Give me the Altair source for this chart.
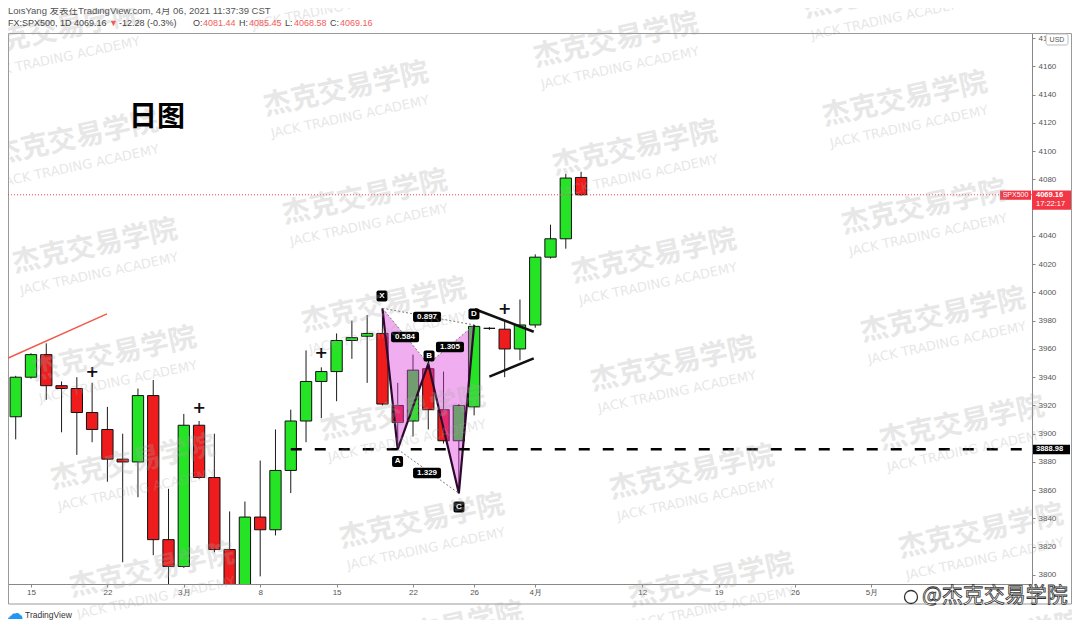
import altair as alt
import pandas as pd

# ---------------- data ----------------
# daily bars, index 0 = 15 Feb 2021 (FX:SPX500, 1D)
bar_idx = list(range(-2, 37))
opens  = [3915, 3912, 3940, 3956, 3934, 3932, 3915, 3903, 3882, 3880, 3927, 3825, 3806,
          3906, 3869, 3818, 3768, 3841, 3832, 3874, 3909, 3937, 3944, 3966, 3969, 3971,
          3920, 3909, 3946, 3917, 3895, 3919, 3974.6, 3974, 3960, 3977, 4025, 4038, 4081.44]
highs  = [3917, 3941, 3957, 3964, 3937, 3940, 3936, 3919, 3900, 3932, 3938, 3861, 3914,
          3909, 3900, 3845, 3852, 3881, 3903, 3917, 3959, 3947, 3971, 3980, 3984, 3988.8,
          3936, 3956, 3950, 3944, 3921, 3977, 3975.5, 3980, 3995, 4027, 4048, 4084, 4085.45]
lows   = [3905, 3896, 3939, 3924, 3901, 3885, 3894, 3866, 3809, 3855, 3814, 3790, 3805,
          3868, 3816, 3723, 3722, 3799, 3828, 3858, 3894, 3911, 3923, 3953, 3936, 3920,
          3888.98, 3898, 3903, 3893, 3857.8, 3913, 3973.5, 3940, 3952, 3975, 4024, 4031, 4068.58]
closes = [3912, 3940, 3956, 3934, 3932, 3915, 3903, 3882, 3880, 3927, 3825, 3806, 3906,
          3869, 3818, 3768, 3841, 3832, 3874, 3909, 3937, 3944, 3966, 3968, 3971, 3921,
          3908, 3945, 3917, 3895, 3920, 3976, 3974.6, 3960, 3977, 4025, 4038, 4081, 4069.16]

tick_idx = [0, 5, 10, 15, 20, 25, 29, 33, 40, 45, 50, 55]
tick_lab = ["15", "22", "3月", "8", "15", "22", "26", "4月", "12", "19", "26", "5月"]
# 4060 sits under the last-price tag in the picture
price_ticks = [v for v in range(3800, 4181, 20) if v != 4060]

last_price = 4069.16
support = 3888.98
support_start = 17

pat_lab = ["X", "A", "B", "C", "D"]
pat_i = [23, 24, 26, 28, 29]
pat_p = [3988.8, 3888.98, 3949.4, 3857.8, 3977.0]

ratio_txt = ["0.897", "0.584", "1.305", "1.329"]
ratio_i = [25.92, 24.48, 27.42, 25.92]
ratio_p = [3982.7, 3968.5, 3961.4, 3872.2]
ratio_seg = [("X", "D"), ("X", "B"), ("B", "D"), ("A", "C")]

ptlab_i = [22.97, 23.99, 26.05, 28.01, 28.99]
ptlab_p = [3997.5, 3880.4, 3955.0, 3848.1, 3984.8]

plus_i = [4, 11, 19, 31]
plus_p = [3944, 3918, 3957, 3988]

red_trend = dict(x1=[-1.77], y1=[3952.2], x2=[4.97], y2=[3984.8])
tri_x1 = [29.06, 30.0]
tri_p1 = [3988.1, 3940.4]
tri_x2 = [32.9, 32.9]
tri_p2 = [3972.2, 3953.4]

hdr1 = "LoisYang 发表在TradingView.com, 4月 06, 2021 11:37:39 CST"
hdr2_dark = ["FX:SPX500, 1D 4069.16", "-12.28 (-0.3%)", "O:", "H:", "L:", "C:"]
hdr2_dark_x = [0, 111, 185, 231, 277, 322]
hdr2_red = ["▼", "4081.44", "4085.45", "4068.58", "4069.16"]
hdr2_red_x = [101, 195, 241, 286, 332]

# ---------------- geometry / styles ----------------
W, H = 1024, 551
X_DOM = [-1.505, 65.51]
Y_DOM = [3793.6, 4183.7]
PPT = H / (Y_DOM[1] - Y_DOM[0])
PPI = W / (X_DOM[1] - X_DOM[0])
xs = alt.Scale(domain=X_DOM, nice=False, zero=False)
ys = alt.Scale(domain=Y_DOM, nice=False, zero=False)
GREEN = "#25e325"
RED = "#ee1c1c"
FONT = "Liberation Sans, DejaVu Sans"
CJK = "Noto Sans CJK SC"

label_expr = "[" + ",".join(f"'{t}'" for t in tick_lab) + "][indexof([" + \
    ",".join(str(t) for t in tick_idx) + "], datum.value)]"

xaxis = alt.Axis(values=tick_idx, labelExpr=label_expr, grid=False, title=None,
                 domainColor="#888", tickColor="#888", tickSize=3, labelFontSize=8,
                 labelColor="#555", labelFont=FONT, labelPadding=1, labelOverlap=False,
                 labelFlush=False, orient="bottom")
yaxis = alt.Axis(orient="right", values=price_ticks, format="d", grid=False, title=None,
                 domainColor="#888", tickColor="#888", tickSize=3, labelFontSize=8,
                 labelColor="#555", labelFont=FONT, labelPadding=3, labelAlign="left",
                 labelOverlap=False, labelFlush=False)


def to_i(px):
    return X_DOM[0] + px / PPI


def to_p(py):
    return Y_DOM[1] - py / PPT


def XQ(f):
    return alt.X(f, scale=xs, axis=xaxis)


def YQ(f):
    return alt.Y(f, scale=ys, axis=yaxis)


one = alt.Data(values=[{"a": 1}])

candles = pd.DataFrame(dict(i=bar_idx, o=opens, h=highs, l=lows, c=closes))
candles["dir"] = ["up" if c >= o else "down" for o, c in zip(opens, closes)]

wicks = alt.Chart(candles).mark_rule(color="#1a1a1a", strokeWidth=1, clip=True).encode(
    x=XQ("i:Q"), y=YQ("l:Q"), y2="h:Q")

bodies = alt.Chart(candles).transform_calculate(
    x1="datum.i - 0.37", x2="datum.i + 0.37"
).mark_rect(stroke="#111", strokeWidth=1, clip=True).encode(
    x=XQ("x1:Q"), x2="x2:Q", y=YQ("o:Q"), y2="c:Q",
    color=alt.Color("dir:N", scale=alt.Scale(domain=["up", "down"], range=[GREEN, RED]),
                    legend=None))

frame = alt.Chart(one).mark_rect(fillOpacity=0, stroke="#9a9a9a", strokeWidth=1).encode(
    x=alt.value(0.5), x2=alt.value(1063.5), y=alt.value(0.5), y2=alt.value(571))
sep = alt.Chart(one).mark_rule(color="#888").encode(
    x=alt.value(1024), y=alt.value(551), y2=alt.value(571))

# harmonic pattern
P = {k: (i, p) for k, i, p in zip(pat_lab, pat_i, pat_p)}


def interp(a, b, x):
    (x1, y1), (x2, y2) = P[a], P[b]
    return y1 + (y2 - y1) * (x - x1) / (x2 - x1)


area_rows = [
    dict(tri="XAB", i=P["X"][0], lo=P["X"][1], hi=P["X"][1]),
    dict(tri="XAB", i=P["A"][0], lo=P["A"][1], hi=interp("X", "B", P["A"][0])),
    dict(tri="XAB", i=P["B"][0], lo=P["B"][1], hi=P["B"][1]),
    dict(tri="BCD", i=P["B"][0], lo=P["B"][1], hi=P["B"][1]),
    dict(tri="BCD", i=P["C"][0], lo=P["C"][1], hi=interp("B", "D", P["C"][0])),
    dict(tri="BCD", i=P["D"][0], lo=P["D"][1], hi=P["D"][1]),
]
pat_area = alt.Chart(pd.DataFrame(area_rows)).mark_area(color="#dc3cdc", opacity=0.42).encode(
    x=XQ("i:Q"), y=YQ("lo:Q"), y2="hi:Q", detail="tri:N")

pat_df = pd.DataFrame(dict(k=list(range(5)), i=pat_i, p=pat_p))
pat_line = alt.Chart(pat_df).mark_line(color="#2d0a2d", strokeWidth=2.2).encode(
    x=XQ("i:Q"), y=YQ("p:Q"), order="k:Q")

seg_df = pd.DataFrame([dict(x1=P[a][0], y1=P[a][1], x2=P[b][0], y2=P[b][1]) for a, b in ratio_seg])
dotted = alt.Chart(seg_df).mark_rule(color="#7a7a7a", strokeWidth=1, strokeDash=[2, 2]).encode(
    x=XQ("x1:Q"), y=YQ("y1:Q"), x2="x2:Q", y2="y2:Q")

ratio_df = pd.DataFrame(dict(t=ratio_txt, i=ratio_i, p=ratio_p))
ratio_box = alt.Chart(ratio_df).transform_calculate(
    a=f"datum.i - {14 / PPI}", b=f"datum.i + {14 / PPI}",
    lo=f"datum.p - {5.2 / PPT}", hi=f"datum.p + {5.2 / PPT}"
).mark_rect(color="#000", cornerRadius=2).encode(x=XQ("a:Q"), x2="b:Q", y=YQ("lo:Q"), y2="hi:Q")
ratio_text = alt.Chart(ratio_df).mark_text(color="white", fontSize=8, font=FONT,
                                           fontWeight="bold").encode(
    x=XQ("i:Q"), y=YQ("p:Q"), text="t:N")

pt_df = pd.DataFrame(dict(t=pat_lab, i=ptlab_i, p=ptlab_p))
pt_box = alt.Chart(pt_df).transform_calculate(
    a=f"datum.i - {5.5 / PPI}", b=f"datum.i + {5.5 / PPI}",
    lo=f"datum.p - {5.5 / PPT}", hi=f"datum.p + {5.5 / PPT}"
).mark_rect(color="#000", cornerRadius=2).encode(x=XQ("a:Q"), x2="b:Q", y=YQ("lo:Q"), y2="hi:Q")
pt_text = alt.Chart(pt_df).mark_text(color="white", fontSize=8, font=FONT,
                                     fontWeight="bold").encode(
    x=XQ("i:Q"), y=YQ("p:Q"), text="t:N")

support_rule = alt.Chart(pd.DataFrame(dict(a=[support_start], b=[X_DOM[1]], p=[support]))).mark_rule(
    color="#000", strokeWidth=2.5, strokeDash=[11, 13]).encode(x=XQ("a:Q"), x2="b:Q", y=YQ("p:Q"))
last_rule = alt.Chart(pd.DataFrame(dict(a=[X_DOM[0]], b=[X_DOM[1]], p=[last_price]))).mark_rule(
    color="#f04848", strokeWidth=1, strokeDash=[1, 2]).encode(x=XQ("a:Q"), x2="b:Q", y=YQ("p:Q"))

red_line = alt.Chart(pd.DataFrame(red_trend)).mark_rule(color="#f05a4a", strokeWidth=1.5, clip=True).encode(
    x=XQ("x1:Q"), y=YQ("y1:Q"), x2="x2:Q", y2="y2:Q")
tri_lines = alt.Chart(pd.DataFrame(dict(x1=tri_x1, y1=tri_p1, x2=tri_x2, y2=tri_p2))).mark_rule(
    color="#111", strokeWidth=2.5).encode(x=XQ("x1:Q"), y=YQ("y1:Q"), x2="x2:Q", y2="y2:Q")

plus = alt.Chart(pd.DataFrame(dict(i=plus_i, p=plus_p))).mark_text(
    text="+", fontSize=16, font="DejaVu Sans", fontWeight="bold", color="#111").encode(
    x=XQ("i:Q"), y=YQ("p:Q"))

# price-axis tags
lp = pd.DataFrame(dict(p=[last_price], hi=[last_price + 4.2 / PPT], lo=[last_price - 15 / PPT],
                       lo2=[last_price - 5 / PPT], t=[f"{last_price:.2f}"]))
spx_box = alt.Chart(lp).mark_rect(color="#f23645").encode(
    x=alt.value(992), x2=alt.value(1023), y=YQ("hi:Q"), y2="lo2:Q")
spx_txt = alt.Chart(lp).mark_text(text="SPX500", color="white", fontSize=7, font=FONT,
                                  dy=0.5).encode(x=alt.value(1007.5), y=YQ("p:Q"))
price_box = alt.Chart(lp).mark_rect(color="#f23645").encode(
    x=alt.value(1024), x2=alt.value(1063), y=YQ("hi:Q"), y2="lo:Q")
price_txt = alt.Chart(lp).mark_text(color="white", fontSize=7.5, font=FONT, fontWeight="bold",
                                    align="left").encode(x=alt.value(1028), y=YQ("p:Q"), text="t:N")
time_txt = alt.Chart(lp).mark_text(text="17:22:17", color="white", fontSize=7.5, font=FONT,
                                   align="left", dy=9.5).encode(x=alt.value(1028), y=YQ("p:Q"))
sp = pd.DataFrame(dict(p=[support], hi=[support + 4.5 / PPT], lo=[support - 5 / PPT], t=[f"{support:.2f}"]))
sup_box = alt.Chart(sp).mark_rect(color="#000").encode(
    x=alt.value(1025), x2=alt.value(1062), y=YQ("hi:Q"), y2="lo:Q")
sup_txt = alt.Chart(sp).mark_text(color="white", fontSize=7.5, font=FONT, fontWeight="bold",
                                  align="left").encode(x=alt.value(1028), y=YQ("p:Q"), text="t:N")
usd_box = alt.Chart(one).mark_rect(fill="white", stroke="#bbb", strokeWidth=1, cornerRadius=2).encode(
    x=alt.value(1038), x2=alt.value(1060), y=alt.value(1), y2=alt.value(12))
usd_txt = alt.Chart(one).mark_text(text="USD", fontSize=7, font=FONT, color="#555").encode(
    x=alt.value(1049), y=alt.value(6.5))

# watermarks (lattice of repeated logo text)
wm_rows = []
for a in range(-1, 3):
    for b in range(-2, 8):
        cx = 346 + 270 * a + 19 * b
        cy = 90 - 49 * a + 108 * b
        if -40 <= cy <= 660 and -120 <= cx <= 1200:
            wm_rows.append(dict(ci=to_i(cx - 8), cp=to_p(cy - 33),
                                ei=to_i(cx - 4), ep=to_p(cy - 6)))
wm_df = pd.DataFrame(wm_rows)
wm_cn = alt.Chart(wm_df).mark_text(text="杰克交易学院", font=CJK, fontSize=28, fontWeight="bold",
                                   color="#a8a8a8", opacity=0.27, angle=348).encode(
    x=XQ("ci:Q"), y=YQ("cp:Q"))
wm_en = alt.Chart(wm_df).mark_text(text="JACK TRADING ACADEMY", font="DejaVu Sans", fontSize=13,
                                   color="#a8a8a8", opacity=0.27, angle=348).encode(
    x=XQ("ei:Q"), y=YQ("ep:Q"))

title = alt.Chart(one).mark_text(text="日图", font=CJK, fontSize=28, fontWeight="bold",
                                 color="#000").encode(x=alt.value(149), y=alt.value(85))

hdr1_mark = alt.Chart(one).mark_text(text=hdr1, font="Liberation Sans, Noto Sans CJK SC",
                                     fontSize=9.5, color="#555", align="left").encode(
    x=alt.value(0), y=alt.value(-22))
hd = pd.DataFrame(dict(t=hdr2_dark, i=[to_i(v) for v in hdr2_dark_x], p=[to_p(-10)] * len(hdr2_dark)))
hr = pd.DataFrame(dict(t=hdr2_red, i=[to_i(v) for v in hdr2_red_x], p=[to_p(-10)] * len(hdr2_red)))
hdr2_d = alt.Chart(hd).mark_text(font=FONT, fontSize=9, align="left", color="#444").encode(
    x=XQ("i:Q"), y=YQ("p:Q"), text="t:N")
hdr2_r = alt.Chart(hr).mark_text(font=FONT, fontSize=9, align="left", color="#f25c5c").encode(
    x=XQ("i:Q"), y=YQ("p:Q"), text="t:N")

tv_icon = alt.Chart(one).mark_text(text="☁", font="DejaVu Sans", fontSize=17, color="#2196f3").encode(
    x=alt.value(7), y=alt.value(581))
tv_txt = alt.Chart(one).mark_text(text="TradingView", font=FONT, fontSize=8.5, color="#333",
                                  align="left").encode(x=alt.value(17), y=alt.value(582))

wb_icon = alt.Chart(one).mark_point(shape="circle", size=170, stroke="#333", fill="white",
                                    strokeWidth=1.3, opacity=1).encode(
    x=alt.value(903), y=alt.value(564))
wb_txt = alt.Chart(one).mark_text(text="@杰克交易学院", font=CJK, fontSize=21, color="white",
                                  stroke="#333", strokeWidth=0.8, align="left").encode(
    x=alt.value(914), y=alt.value(563))

chart = alt.layer(
    wicks, frame, bodies, pat_area, pat_line, dotted, support_rule, last_rule, red_line, tri_lines,
    ratio_box, ratio_text, pt_box, pt_text, plus,
    spx_box, spx_txt, price_box, price_txt, time_txt, sup_box, sup_txt, usd_box, usd_txt,
    wm_cn, wm_en, title, hdr1_mark, hdr2_d, hdr2_r, tv_icon, tv_txt, wb_icon, wb_txt, sep
).properties(
    width=W, height=H,
    padding={"left": 0, "top": 25, "right": 40, "bottom": 36},
    autosize=alt.AutoSizeParams(type="none"),
    background="white",
).configure_view(stroke=None)

chart.save("out.html", embed_options={"renderer": "svg", "actions": False})
